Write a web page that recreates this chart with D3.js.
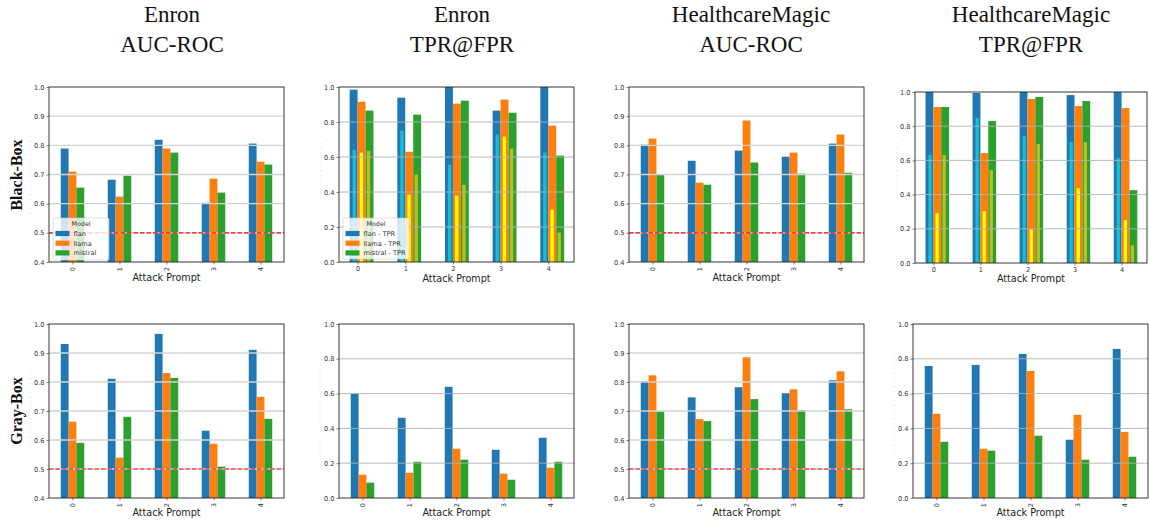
<!DOCTYPE html>
<html><head><meta charset="utf-8">
<script src="https://cdn.jsdelivr.net/npm/d3@7"></script>
<style>body{margin:0;background:#fff;} svg{display:block;}</style>
</head><body><svg id="c" width="1149" height="525"></svg>
<script>
// ---------- data ----------
const categories = ["0", "1", "2", "3", "4"];
const models = ["flan", "llama", "mistral"];
const tprLegendLabels = ["flan - TPR", "llama - TPR", "mistral - TPR"];
const datasetTitles = ["Enron", "Enron", "HealthcareMagic", "HealthcareMagic"];
const metricTitles = ["AUC-ROC", "TPR@FPR", "AUC-ROC", "TPR@FPR"];
const rowLabels = ["Black-Box", "Gray-Box"];
const aucTicks = [0.4, 0.5, 0.6, 0.7, 0.8, 0.9, 1.0];
const tprTicks = [0.0, 0.2, 0.4, 0.6, 0.8, 1.0];
const randomGuess = 0.5;

// [flan, llama, mistral] per attack prompt 0..4
const enronAucBlack = [
  [0.789, 0.682, 0.819, 0.603, 0.806],
  [0.710, 0.624, 0.789, 0.686, 0.744],
  [0.655, 0.696, 0.775, 0.638, 0.734]
];
const enronTprBlack = [
  [0.985, 0.939, 1.000, 0.865, 1.000],
  [0.916, 0.630, 0.905, 0.928, 0.779],
  [0.865, 0.842, 0.922, 0.853, 0.608]
];
const enronTprBlackThin = [
  [0.642, 0.750, 0.556, 0.728, 0.625],
  [0.625, 0.385, 0.379, 0.716, 0.299],
  [0.636, 0.499, 0.442, 0.648, 0.168]
];
const hmAucBlack = [
  [0.802, 0.747, 0.782, 0.761, 0.806],
  [0.823, 0.672, 0.885, 0.775, 0.837],
  [0.698, 0.665, 0.741, 0.703, 0.706]
];
const hmTprBlack = [
  [1.000, 0.994, 1.000, 0.982, 1.000],
  [0.912, 0.643, 0.959, 0.918, 0.906],
  [0.912, 0.830, 0.971, 0.947, 0.426]
];
const hmTprBlackThin = [
  [0.631, 0.848, 0.742, 0.707, 0.613],
  [0.291, 0.303, 0.197, 0.437, 0.250],
  [0.631, 0.543, 0.695, 0.707, 0.104]
];
const enronAucGray = [
  [0.931, 0.811, 0.966, 0.632, 0.911],
  [0.663, 0.539, 0.831, 0.587, 0.749],
  [0.590, 0.680, 0.814, 0.508, 0.673]
];
const enronTprGray = [
  [0.598, 0.461, 0.639, 0.277, 0.346],
  [0.134, 0.145, 0.283, 0.140, 0.174],
  [0.088, 0.208, 0.220, 0.105, 0.208]
];
const hmAucGray = [
  [0.802, 0.747, 0.782, 0.761, 0.806],
  [0.823, 0.672, 0.885, 0.775, 0.837],
  [0.698, 0.665, 0.741, 0.703, 0.706]
];
const hmTprGray = [
  [0.759, 0.765, 0.828, 0.335, 0.857],
  [0.484, 0.283, 0.730, 0.478, 0.380],
  [0.323, 0.272, 0.358, 0.220, 0.237]
];

const wideColors = ["#1f77b4", "#ff7f0e", "#2ca02c"];
const thinColors = ["#17becf", "#ffff00", "#bcbd22"];

// ---------- layout ----------
const svg = d3.select("#c");
const FONT = "'DejaVu Sans', sans-serif";
const SERIF = "'Liberation Serif', 'Times New Roman', serif";

const panels = [
  {row:0, col:0, data:enronAucBlack, kind:"auc", x0:49, x1:284, y0:87, y1:262, legend:models, legBox:[53,218,56,42]},
  {row:0, col:1, data:enronTprBlack, thin:enronTprBlackThin, kind:"tpr", x0:339, x1:574, y0:87, y1:262, legend:tprLegendLabels, legBox:[343,218,66,41], shifted:true},
  {row:0, col:2, data:hmAucBlack, kind:"auc", x0:629, x1:864, y0:87, y1:262},
  {row:0, col:3, data:hmTprBlack, thin:hmTprBlackThin, kind:"tpr", x0:915, x1:1147, y0:92, y1:263, shifted:true},
  {row:1, col:0, data:enronAucGray, kind:"auc", x0:49, x1:284, y0:324, y1:498},
  {row:1, col:1, data:enronTprGray, kind:"tpr", x0:339, x1:574, y0:324, y1:498},
  {row:1, col:2, data:hmAucGray, kind:"auc", x0:629, x1:864, y0:324, y1:498},
  {row:1, col:3, data:hmTprGray, kind:"tpr", x0:913, x1:1148, y0:324, y1:498}
];

// faint ghost y-labels (seen as dotted traces)
const ghosts = [
  [30,127,220],[321,143,203],[897,143,205],[30,365,453],[320,355,463],[894,355,463]
];

function drawPanel(p) {
  const g = svg.append("g");
  const xDomain = p.shifted ? [-0.39, 4.54] : [-0.5, 4.5];
  const x = d3.scaleLinear().domain(xDomain).range([p.x0, p.x1]);
  const yDomain = p.kind === "auc" ? [0.4, 1.0] : [0.0, 1.0];
  const y = d3.scaleLinear().domain(yDomain).range([p.y1, p.y0]);
  const ticks = p.kind === "auc" ? aucTicks : tprTicks;
  const bw = 0.5 / 3;
  const startOff = p.shifted ? -bw : -0.25;

  const clip = "clip" + p.row + p.col;
  g.append("clipPath").attr("id", clip).append("rect")
    .attr("x", p.x0).attr("y", p.y0).attr("width", p.x1 - p.x0).attr("height", p.y1 - p.y0);
  const plot = g.append("g").attr("clip-path", `url(#${clip})`);

  // wide bars
  p.data.forEach((vals, si) => {
    plot.selectAll(null).data(vals).enter().append("rect")
      .attr("x", (d, i) => x(i + startOff + si * bw))
      .attr("width", (d, i) => x(i + startOff + (si + 1) * bw) - x(i + startOff + si * bw))
      .attr("y", d => y(d))
      .attr("height", d => y(yDomain[0]) - y(d))
      .attr("fill", wideColors[si]);
  });
  // thin overlay bars
  if (p.thin) {
    const centers = [-0.07, 0.08, 0.23];
    const tw = 0.07;
    p.thin.forEach((vals, si) => {
      plot.selectAll(null).data(vals).enter().append("rect")
        .attr("x", (d, i) => x(i + centers[si] - tw / 2))
        .attr("width", (d, i) => x(i + centers[si] + tw / 2) - x(i + centers[si] - tw / 2))
        .attr("y", d => y(d))
        .attr("height", d => y(0) - y(d))
        .attr("fill", thinColors[si]);
    });
  }

  // grid (above bars, matplotlib default)
  const gridTicks = ticks.filter(t => t > yDomain[0] && t < yDomain[1]);
  g.selectAll(null).data(gridTicks).enter().append("line")
    .attr("x1", p.x0).attr("x2", p.x1)
    .attr("y1", d => y(d)).attr("y2", d => y(d))
    .attr("stroke", p.kind === "auc" ? "#d3d3d3" : "#b0b0b0")
    .attr("stroke-width", p.kind === "auc" ? 1.4 : 0.9);

  if (p.kind === "auc") {
    g.append("line")
      .attr("x1", p.x0).attr("x2", p.x1)
      .attr("y1", y(randomGuess)).attr("y2", y(randomGuess))
      .attr("stroke", "#ee1111").attr("stroke-width", 1.1)
      .attr("stroke-dasharray", "4.5,2");
  }

  // axes
  const yAxis = d3.axisLeft(y).tickValues(ticks).tickFormat(d3.format(".1f")).tickSize(2.5).tickPadding(2);
  const ya = g.append("g").attr("transform", `translate(${p.x0},0)`).call(yAxis);
  ya.select(".domain").remove();
  ya.selectAll("text").attr("font-family", FONT).attr("font-size", 6.6).attr("fill", "#333");
  ya.selectAll("line").attr("stroke", "#333").attr("stroke-width", 0.6);

  const xAxis = d3.axisBottom(x).tickValues(d3.range(categories.length)).tickFormat(i => categories[i]).tickSize(2.5).tickPadding(2);
  const xa = g.append("g").attr("transform", `translate(0,${p.y1})`).call(xAxis);
  xa.select(".domain").remove();
  xa.selectAll("line").attr("stroke", "#333").attr("stroke-width", 0.6);
  xa.selectAll("text").attr("font-family", FONT).attr("font-size", 6.6).attr("fill", "#333");
  if (!p.shifted) {
    xa.selectAll("text")
      .attr("y", 0).attr("dy", "0.35em")
      .attr("text-anchor", "end")
      .attr("transform", "translate(0,5) rotate(-90)");
  } else {
    xa.selectAll("text").attr("y", 4);
  }

  // frame
  g.append("rect").attr("x", p.x0).attr("y", p.y0)
    .attr("width", p.x1 - p.x0).attr("height", p.y1 - p.y0)
    .attr("fill", "none").attr("stroke", "#222").attr("stroke-width", 0.9);

  // x label
  g.append("text").attr("x", (p.x0 + p.x1) / 2)
    .attr("y", p.row === 0 ? (p.shifted ? 282 : 280.5) : 516)
    .attr("text-anchor", "middle").attr("font-family", FONT).attr("font-size", 9.6)
    .attr("fill", "#222").text("Attack Prompt");

  // legend
  if (p.legend) {
    const [lx, ly, lw, lh] = p.legBox;
    const lg = g.append("g");
    lg.append("rect").attr("x", lx).attr("y", ly).attr("width", lw).attr("height", lh)
      .attr("rx", 1.5).attr("fill", "#fff").attr("fill-opacity", 0.8)
      .attr("stroke", "#cccccc").attr("stroke-width", 0.6);
    lg.append("text").attr("x", lx + lw / 2).attr("y", ly + 8.2)
      .attr("text-anchor", "middle").attr("font-family", FONT).attr("font-size", 6.4)
      .attr("fill", "#333").text("Model");
    p.legend.forEach((lab, i) => {
      const cy = ly + 15.5 + i * 9.7;
      lg.append("rect").attr("x", lx + 2.5).attr("y", cy - 2.6).attr("width", 14).attr("height", 5.2)
        .attr("fill", wideColors[i]);
      lg.append("text").attr("x", lx + 20.5).attr("y", cy).attr("dy", "0.35em")
        .attr("font-family", FONT).attr("font-size", 6.6).attr("fill", "#333").text(lab);
    });
  }
}

panels.forEach(drawPanel);

// ghost traces
svg.selectAll(null).data(ghosts).enter().append("line")
  .attr("x1", d => d[0]).attr("x2", d => d[0])
  .attr("y1", d => d[1]).attr("y2", d => d[2])
  .attr("stroke", "#c8c8c8").attr("stroke-width", 0.6)
  .attr("stroke-dasharray", "1,3.5");

// column titles
const titleX = [172, 462, 751, 1031];
titleX.forEach((cx, i) => {
  const t = svg.append("text").attr("text-anchor", "middle")
    .attr("font-family", SERIF).attr("font-size", 23).attr("fill", "#111");
  t.append("tspan").attr("x", cx).attr("y", 22).text(datasetTitles[i]);
  t.append("tspan").attr("x", cx).attr("y", 52).text(metricTitles[i]);
});

// row labels
const rowCenters = [175, 411];
rowLabels.forEach((lab, i) => {
  svg.append("text")
    .attr("transform", `translate(22,${rowCenters[i]}) rotate(-90)`)
    .attr("text-anchor", "middle")
    .attr("font-family", SERIF).attr("font-weight", "bold").attr("font-size", 16)
    .attr("fill", "#111").text(lab);
});
</script>
</body></html>
